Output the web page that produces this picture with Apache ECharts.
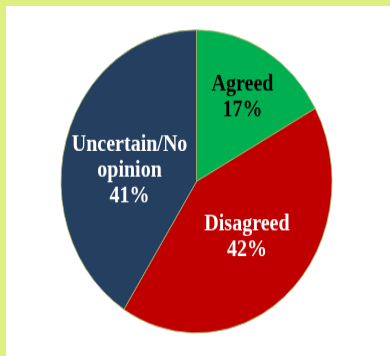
<!DOCTYPE html>
<html>
<head>
<meta charset="utf-8">
<script src="https://cdn.jsdelivr.net/npm/echarts@6/dist/echarts.min.js"></script>
<style>
  html, body { margin: 0; padding: 0; }
  #frame { position: relative; width: 390px; height: 356px; background: #dff080; overflow: hidden; }
  #paper { position: absolute; left: 6px; top: 6px; right: 0; bottom: 0; background: #ffffff; }
  #chart { position: absolute; left: 0; top: 0; width: 390px; height: 318.4px; transform: scaleY(1.118); transform-origin: 0 0; }
</style>
</head>
<body>
<div id="frame"><div id="paper"></div><div id="chart"></div></div>
<script>
const categories = ['Agreed', 'Disagreed', 'Uncertain/No opinion'];
const labelNames = ['Agreed', 'Disagreed', 'Uncertain/No\nopinion'];
const values = [17, 42, 41];
const colors = ['#00b050', '#c00000', '#243f60'];
const labelColors = ['#000000', '#ffffff', '#ffffff'];

const chart = echarts.init(document.getElementById('chart'), null, { renderer: 'canvas' });
chart.setOption({
  animation: false,
  backgroundColor: 'transparent',
  series: [{
    type: 'pie',
    center: [196.5, 162.3],
    radius: 135.5,
    startAngle: 90,
    clockwise: true,
    silent: true,
    data: categories.map((c, i) => ({
      name: c,
      value: values[i],
      itemStyle: { color: colors[i] },
      label: { color: labelColors[i] }
    })),
    itemStyle: { borderColor: '#a9b86a', borderWidth: 0.8 },
    label: {
      show: true,
      position: 'inside',
      formatter: p => labelNames[p.dataIndex] + '\n' + p.percent.toFixed(0) + '%',
      fontFamily: '"Liberation Serif", "Times New Roman", serif',
      fontWeight: 'bold',
      fontSize: 20,
      lineHeight: 23,
      align: 'center'
    },
    labelLine: { show: false },
    labelLayout: function (p) {
      if (p.dataIndex === 0) return { dx: 10, dy: -14.5 };
      if (p.dataIndex === 2) return { dx: 1, dy: 10.5 };
      return { dx: 2, dy: -1.5 };
    }
  }]
});
</script>
</body>
</html>
